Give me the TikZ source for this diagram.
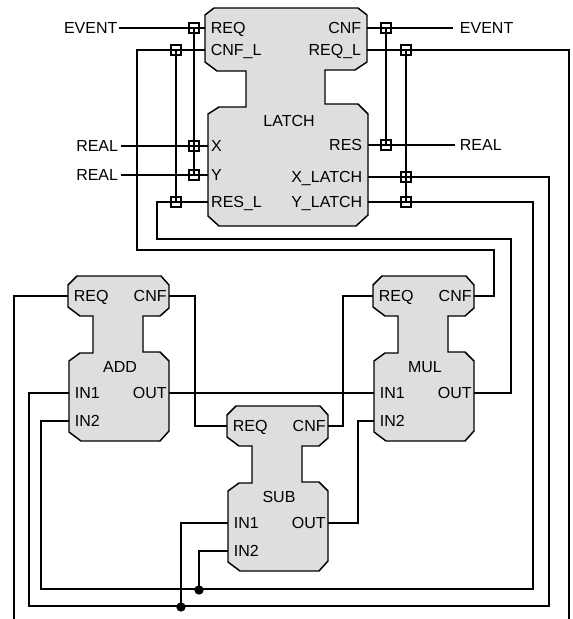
\documentclass[tikz,border=0pt]{standalone}
\usepackage{fontspec}
\setmainfont{Liberation Sans}
\usepackage{xcolor}
\usetikzlibrary{calc,positioning}
\definecolor{blockfill}{RGB}{222,222,222}
\definecolor{wirecolor}{RGB}{0,0,0}
\begin{document}
\begin{tikzpicture}[
    x=0.75pt, y=-0.75pt,
    blockline/.style={draw=wirecolor, fill=blockfill, line width=1.1pt},
    wire/.style={draw=wirecolor, line width=1.05pt},
    lbl/.style={font=\fontsize{12}{14}\selectfont, text=black, inner sep=0pt},
    portl/.style={lbl, anchor=west, inner xsep=4.2pt, inner ysep=0pt, text height=8.6pt, text depth=0pt},
    portr/.style={lbl, anchor=east, inner xsep=4.2pt, inner ysep=0pt, text height=8.6pt, text depth=0pt},
    portlb/.style={portl, inner xsep=2.2pt},
    portrb/.style={portr, inner xsep=1.6pt},
    ionl/.style={lbl, anchor=east, inner xsep=1pt, text height=8.6pt, text depth=0pt},
    ionr/.style={lbl, anchor=west, inner xsep=5pt, text height=8.6pt, text depth=0pt},
    jbox/.style={draw=wirecolor, line width=1.05pt, minimum size=7.3pt, inner sep=0pt},
    jdot/.style={circle, fill=wirecolor, minimum size=7pt, inner sep=0pt}
]
\useasboundingbox (0,0) rectangle (573,619);

% LATCH block
\draw[blockline] (214,8) -- (358,8) -- (367,15) -- (367,62) -- (355,70) -- (325,70) -- (325,104) -- (358,104) -- (368,114) -- (368,215) -- (356,226) -- (219,226) -- (208,216) -- (208,114) -- (219,107) -- (246,107) -- (246,71) -- (217,71) -- (205,62) -- (205,15) -- cycle;
\node[lbl] (LATCH) at (289,121) {LATCH};
\node[portl] (L_REQ) at (205,28) {REQ};
\node[portl] (L_CNF_L) at (205,50) {CNF\_L};
\node[portlb] (L_X) at (208,146) {X};
\node[portlb] (L_Y) at (208,175) {Y};
\node[portlb] (L_RES_L) at (208,202) {RES\_L};
\node[portr] (L_CNF) at (367,28) {CNF};
\node[portr] (L_REQ_L) at (367,50) {REQ\_L};
\node[portr] (L_RES) at (368,145) {RES};
\node[portr] (L_X_LATCH) at (368,177) {X\_LATCH};
\node[portr] (L_Y_LATCH) at (368,202) {Y\_LATCH};

% ADD block
\draw[blockline] (77,276) -- (161,276) -- (169,285) -- (169,308) -- (160,316) -- (143,316) -- (143,352) -- (160,352) -- (169,361) -- (169,431) -- (160,441) -- (81,441) -- (69,432) -- (69,361) -- (80,353) -- (93,353) -- (93,316) -- (80,316) -- (68,307) -- (68,285) -- cycle;
\node[lbl] (ADD) at (120,367) {ADD};
\node[portl] (A_REQ) at (68,296) {REQ};
\node[portrb] (A_CNF) at (169,296) {CNF};
\node[portl] (A_IN1) at (69,393) {IN1};
\node[portl] (A_IN2) at (69,421) {IN2};
\node[portrb] (A_OUT) at (169,393) {OUT};

% MUL block
\draw[blockline] (382,276) -- (466,276) -- (474,285) -- (474,308) -- (465,316) -- (448,316) -- (448,352) -- (465,352) -- (474,361) -- (474,431) -- (465,441) -- (386,441) -- (374,432) -- (374,361) -- (385,353) -- (398,353) -- (398,316) -- (385,316) -- (373,307) -- (373,285) -- cycle;
\node[lbl] (MUL) at (425,367) {MUL};
\node[portl] (M_REQ) at (373,296) {REQ};
\node[portrb] (M_CNF) at (474,296) {CNF};
\node[portl] (M_IN1) at (374,393) {IN1};
\node[portl] (M_IN2) at (374,421) {IN2};
\node[portrb] (M_OUT) at (474,393) {OUT};

% SUB block
\draw[blockline] (236,406) -- (320,406) -- (328,415) -- (328,438) -- (319,446) -- (302,446) -- (302,482) -- (319,482) -- (328,491) -- (328,561) -- (319,571) -- (240,571) -- (228,562) -- (228,491) -- (239,483) -- (252,483) -- (252,446) -- (239,446) -- (227,437) -- (227,415) -- cycle;
\node[lbl] (SUB) at (279,497) {SUB};
\node[portl] (S_REQ) at (227,426) {REQ};
\node[portrb] (S_CNF) at (328,426) {CNF};
\node[portl] (S_IN1) at (228,523) {IN1};
\node[portl] (S_IN2) at (228,551) {IN2};
\node[portrb] (S_OUT) at (328,523) {OUT};

% Interface labels
\node[ionl] (EVT_IN) at (119,28) {EVENT};
\node[ionl, inner xsep=2pt] (REAL_X) at (121,146) {REAL};
\node[ionl, inner xsep=2pt] (REAL_Y) at (121,175) {REAL};
\node[ionr] (EVT_OUT) at (453,28) {EVENT};
\node[ionr, inner xsep=3.5pt] (REAL_OUT) at (455,145) {REAL};

% Free ends at the page bottom
\coordinate (ADD_REQ_END) at (14,619);
\coordinate (LATCH_REQ_END) at (569,619);

% Latch interface wires
\draw[wire] (EVT_IN.east) -- (L_REQ.west);
\draw[wire] (REAL_X.east) -- (L_X.west);
\draw[wire] (REAL_Y.east) -- (L_Y.west);
\draw[wire] (L_CNF.east) -- (EVT_OUT.west);
\draw[wire] (L_RES.east) -- (REAL_OUT.west);

% Latch to blocks
\draw[wire] (L_CNF_L.west) -- (137,50) -- (137,250) -- (494,250) -- (494,296) -- (M_CNF.east);
\draw[wire] (L_RES_L.west) -- (157,202) -- (157,239) -- (511,239) -- (511,393) -- (M_OUT.east);
\draw[wire] (L_REQ_L.east) -- (569,50) -- (LATCH_REQ_END);
\draw[wire] (A_REQ.west) -- (14,296) -- (ADD_REQ_END);

% Junctions
\node[jbox] (J_REQ) at (194,28) {};
\node[jbox] (J_X) at (194,146) {};
\node[jbox] (J_Y) at (194,175) {};
\node[jbox] (J_CNF_L) at (176,50) {};
\node[jbox] (J_RES_L) at (176,202) {};
\node[jbox] (J_CNF) at (386,28) {};
\node[jbox] (J_RES) at (386,145) {};
\node[jbox] (J_REQ_L) at (406,50) {};
\node[jbox] (J_X_LATCH) at (406,177) {};
\node[jbox] (J_Y_LATCH) at (406,202) {};
\draw[wire] (J_REQ.center) -- (J_Y.center);
\draw[wire] (J_CNF_L.center) -- (J_RES_L.center);
\draw[wire] (J_CNF.center) -- (J_RES.center);
\draw[wire] (J_REQ_L.center) -- (J_Y_LATCH.center);

% Outputs fed back to the inputs
\node[jdot] (DOT_IN1) at (181,607) {};
\node[jdot] (DOT_IN2) at (199,590) {};
\draw[wire] (L_X_LATCH.east) -- (549,177) -- (549,606) -- (29,606) -- (29,393) -- (A_IN1.west);
\draw[wire] (L_Y_LATCH.east) -- (533,202) -- (533,589) -- (41,589) -- (41,421) -- (A_IN2.west);
\draw[wire] (S_IN1.west) -| (DOT_IN1.center);
\draw[wire] (S_IN2.west) -| (DOT_IN2.center);

% Block to block
\draw[wire] (A_CNF.east) -- (195,296) -- (195,426) -- (S_REQ.west);
\draw[wire] (A_OUT.east) -- (M_IN1.west);
\draw[wire] (S_CNF.east) -- (343,426) -- (343,296) -- (M_REQ.west);
\draw[wire] (S_OUT.east) -- (358,523) -- (358,421) -- (M_IN2.west);

\end{tikzpicture}
\end{document}
